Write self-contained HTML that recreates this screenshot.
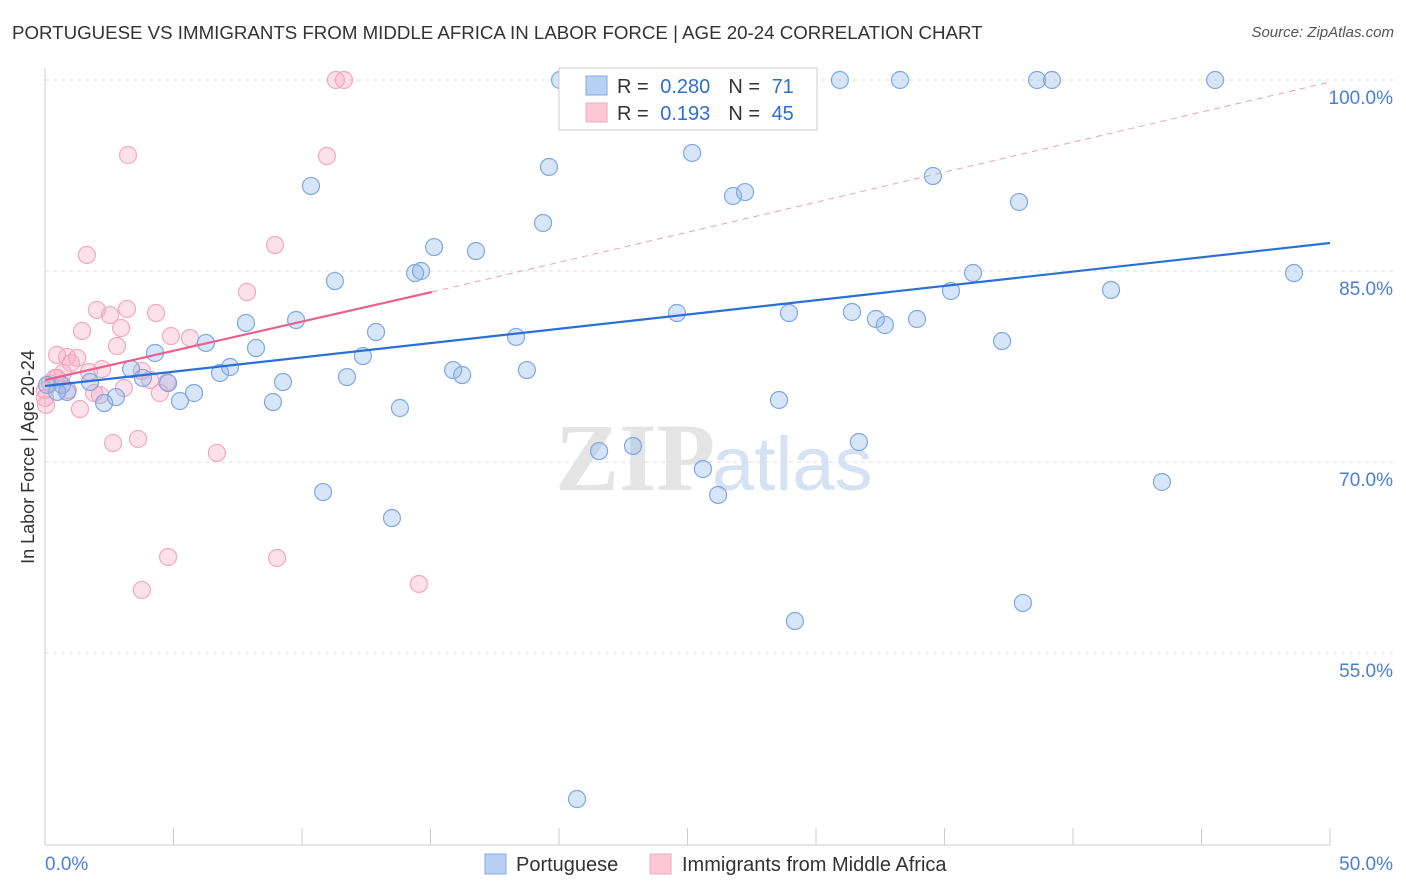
<!DOCTYPE html>
<html><head><meta charset="utf-8"><style>
body{margin:0;background:#fff;font-family:"Liberation Sans",sans-serif;}
#wrap{position:relative;width:1406px;height:892px;overflow:hidden;}
.t{position:absolute;white-space:nowrap;}
</style></head><body>
<div id="wrap">
<div class="t" style="left:12px;top:22px;font-size:18.7px;color:#333;">PORTUGUESE VS IMMIGRANTS FROM MIDDLE AFRICA IN LABOR FORCE | AGE 20-24 CORRELATION CHART</div>
<div class="t" style="right:12px;top:24px;font-size:15px;color:#555;font-style:italic;">Source: ZipAtlas.com</div>
<svg id="svg" width="1406" height="892" style="position:absolute;left:0;top:0"></svg>
</div>
<script>
const blueX=[20.04,30.93,33.27,38.6,39.18,45.53,19.61,25.18,10.35,26.77,27.24,34.55,37.9,19.38,15.14,16.77,14.4,14.63,11.28,36.11,48.6,35.25,41.48,7.82,9.77,24.59,28.95,31.4,32.33,32.68,33.93,12.88,18.33,6.26,8.21,4.28,37.24,12.37,15.88,16.23,18.75,11.75,3.35,6.81,7.2,3.81,4.79,9.26,0.66,1.75,0.86,2.76,2.3,5.25,5.8,8.87,13.81,28.56,31.67,21.56,22.88,25.6,26.19,10.82,13.5,43.46,38.05,29.18,20.7,0.47,0.08];
const blueY=[100,100,100,100,100,100,93.17,94.27,91.68,90.89,91.2,92.46,90.42,88.77,86.88,86.57,84.84,85.0,84.21,84.84,84.84,83.43,83.51,80.92,81.15,81.7,81.7,81.78,81.23,80.76,81.23,80.21,79.82,79.35,78.95,78.56,79.5,78.32,77.22,76.83,77.22,76.67,77.3,76.99,77.46,76.6,76.2,76.28,76.05,76.28,75.5,75.1,74.63,74.79,75.42,74.71,74.24,74.87,71.57,70.86,71.26,69.45,67.41,67.64,65.6,68.43,58.93,57.51,43.53,75.5,76.05];
const pinkX=[11.32,11.63,3.23,10.97,1.63,8.95,7.86,2.02,3.19,4.32,2.53,1.44,2.96,4.9,5.64,2.8,0.47,0.86,1.25,1.01,0.7,1.71,2.22,3.77,0.47,0.19,1.91,3.07,4.47,4.75,1.36,2.65,3.62,6.69,4.79,9.03,3.77,14.55,0.04,0,0,0.39,0.89,2.14,4.09];
const pinkY=[100,100,94.11,94.03,86.26,87.04,83.35,81.94,82.02,81.7,81.54,80.29,80.52,79.89,79.74,79.11,78.4,78.25,78.17,77.77,76.99,77.07,77.3,77.15,76.6,76.2,75.42,75.81,75.42,76.28,74.16,71.49,71.81,70.71,62.54,62.46,59.95,60.42,74.48,75.03,75.65,76.6,75.65,75.26,76.44];
const xTicks=[0,50], yTicks=[55,70,85,100];
const X=v=>45+v*25.7, Y=v=>80+(100-v)*12.733;
const svg=document.getElementById('svg');const NS='http://www.w3.org/2000/svg';
function mk(tag,a,name,parent){const e=document.createElementNS(NS,tag);for(const k in a)e.setAttribute(k,a[k]);


(parent||svg).appendChild(e);return e;}
yTicks.forEach(v=>{mk('line',{x1:45,x2:1395,y1:Y(v),y2:Y(v),stroke:'#ddd','stroke-dasharray':'4,4'},'gridline');
const t=mk('text',{x:1393,y:Y(v)+24,'text-anchor':'end','font-size':19,fill:'#4a7fd4','font-family':'Liberation Sans'},'y-tick-label');t.textContent=v.toFixed(1)+'%';});
mk('line',{x1:45,x2:45,y1:68,y2:845,stroke:'#ccc'},'y-axis');
mk('line',{x1:45,x2:1330,y1:845,y2:845,stroke:'#ccc'},'x-axis');
for(let i=0;i<=10;i++){mk('line',{x1:X(i*5),x2:X(i*5),y1:845,y2:i==0?845:828,stroke:'#ccc'},'x-tick');}
xTicks.forEach((v,i)=>{const t=mk('text',{x:i?1393:45,y:870,'text-anchor':i?'end':'start','font-size':19,fill:'#4a7fd4','font-family':'Liberation Sans'},'x-tick-label');t.textContent=v.toFixed(1)+'%';});
const yl=mk('text',{x:34,y:457,transform:'rotate(-90 34 457)','text-anchor':'middle','font-size':18,fill:'#333','font-family':'Liberation Sans'},'y-axis-title');yl.textContent='In Labor Force | Age 20-24';
const w1=mk('text',{x:555,y:490,'font-size':96,fill:'#e4e4e4','font-family':'Liberation Serif','font-weight':'bold'},'watermark');w1.textContent='ZIP';
const w2=mk('text',{x:712,y:490,'font-size':76,fill:'#d4e2f4','font-family':'Liberation Sans'},'watermark');w2.textContent='atlas';
pinkX.forEach((x,i)=>mk('circle',{cx:X(x),cy:Y(pinkY[i]),r:8.5,fill:'rgba(246,170,195,0.35)',stroke:'#f0a8c0','stroke-width':1.2},'pink-point'));
blueX.forEach((x,i)=>mk('circle',{cx:X(x),cy:Y(blueY[i]),r:8.5,fill:'rgba(140,180,235,0.35)',stroke:'#7fa8e0','stroke-width':1.2},'blue-point'));
mk('line',{x1:X(0),y1:386,x2:X(50),y2:243,stroke:'#2a6fd6','stroke-width':2.2},'blue-trend-line');
mk('line',{x1:X(0),y1:380,x2:432,y2:292,stroke:'#e8628f','stroke-width':2.2},'pink-trend-line');
mk('line',{x1:432,y1:292,x2:X(50),y2:82,stroke:'#eaa0b8','stroke-width':1,'stroke-dasharray':'6,5'},'pink-trend-extension');
const g=mk('g',{},'legend');
mk('rect',{x:559,y:68,width:258,height:62,fill:'#fff',stroke:'#ccc'},'legend-box',g);
mk('rect',{x:586,y:76,width:21,height:19,fill:'#b8d0f4',stroke:'#7fa8e0'},'legend-swatch-blue',g);
mk('rect',{x:586,y:103,width:21,height:19,fill:'#fbc8d8',stroke:'#f0a8c0'},'legend-swatch-pink',g);
[[93,'0.280','71'],[120,'0.193','45']].forEach(r=>{
const a=mk('text',{x:617,y:r[0],'font-size':20,fill:'#333','font-family':'Liberation Sans'},'legend-entry',g);
a.innerHTML='R = <tspan fill="#2a6fd6" dx="6">'+r[1]+'</tspan><tspan dx="18" fill="#333">N = </tspan><tspan fill="#2a6fd6" dx="6">'+r[2]+'</tspan>';});
mk('rect',{x:485,y:854,width:21,height:20,fill:'#b8d0f4',stroke:'#7fa8e0'},'bottom-legend-swatch-blue');
const b1=mk('text',{x:516,y:871,'font-size':20,fill:'#333','font-family':'Liberation Sans'},'bottom-legend-portuguese');b1.textContent='Portuguese';
mk('rect',{x:650,y:854,width:21,height:20,fill:'#fbc8d8',stroke:'#f0a8c0'},'bottom-legend-swatch-pink');
const b2=mk('text',{x:682,y:871,'font-size':20,fill:'#333','font-family':'Liberation Sans'},'bottom-legend-immigrants');b2.textContent='Immigrants from Middle Africa';
</script>
</body></html>
